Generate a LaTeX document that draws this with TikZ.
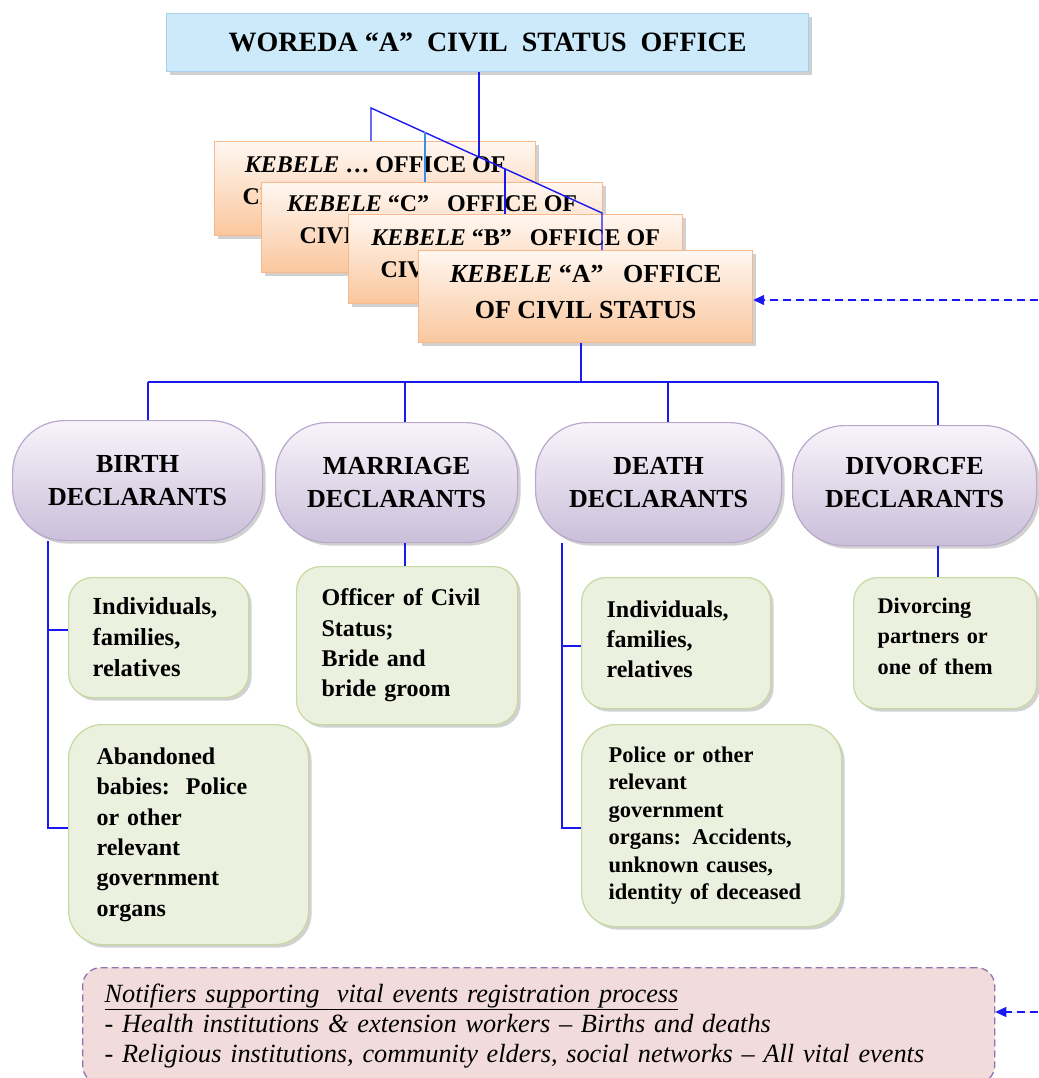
\documentclass[tikz,border=0pt]{standalone}
\usepackage{fontspec}
\setmainfont{Liberation Serif}
\usetikzlibrary{shadows,arrows.meta}
\definecolor{titlefill}{HTML}{CDEAFA}
\definecolor{titleline}{HTML}{A9CFEA}
\definecolor{kebtop}{HTML}{FFF7F1}
\definecolor{kebbot}{HTML}{FAC79E}
\definecolor{kebline}{HTML}{F7B88C}
\definecolor{decltop}{HTML}{F7F4FA}
\definecolor{declbot}{HTML}{CBBFDA}
\definecolor{declline}{HTML}{B8A9CC}
\definecolor{greenfill}{HTML}{EBF1DE}
\definecolor{greenline}{HTML}{C6D9A0}
\definecolor{notfill}{HTML}{F2DCDB}
\definecolor{notline}{HTML}{8E74AE}
\definecolor{connblue}{HTML}{1A1AF0}
\definecolor{connlight}{HTML}{3A8FE0}
\begin{document}
\begin{tikzpicture}[x=1pt,y=-1pt,
  shad/.style={drop shadow={shadow xshift=3pt,shadow yshift=-3pt,fill=black!40,opacity=0.45}},
  titlebox/.style={shad,draw=titleline,line width=1.2pt,fill=titlefill,anchor=north west,
    font=\fontsize{28}{32}\selectfont\bfseries,inner sep=0pt},
  kebbox/.style={shad,draw=kebline,line width=1.2pt,top color=kebtop,bottom color=kebbot,
    anchor=north west,align=center,font=\fontsize{24}{32}\selectfont\bfseries,inner sep=0pt},
  declbox/.style={shad,draw=declline,line width=1.2pt,top color=decltop,bottom color=declbot,
    rounded corners=52pt,anchor=north west,align=center,
    font=\fontsize{26}{33}\selectfont\bfseries,inner sep=0pt},
  greenbox/.style={shad,draw=greenline,line width=1.2pt,fill=greenfill,rounded corners=24pt,
    anchor=north west,align=left,inner xsep=25pt,inner ysep=0pt,
    font=\fontsize{24}{31}\selectfont\bfseries},
  notbox/.style={draw=notline,line width=1.3pt,dash pattern=on 7pt off 4pt,fill=notfill,
    rounded corners=18pt,anchor=north west,align=left,inner xsep=22pt,inner ysep=0pt,
    font=\fontsize{26.3}{30}\selectfont\itshape},
  conn/.style={draw=connblue,line width=1.4pt},
  dasharr/.style={draw=connblue,line width=1.4pt,dash pattern=on 8pt off 5pt,
    -{Triangle[length=11pt,width=10pt]},fill=connblue}
]
\useasboundingbox (0,0) rectangle (1038,1078);

% title
\node[titlebox,minimum width=642pt,minimum height=58pt] (woreda) at (166,13)
  {WOREDA “A”\ \ CIVIL\ \ STATUS\ \ OFFICE};

% kebele stack
\node[kebbox,minimum width=321pt,minimum height=94pt,text depth=16pt] (kdots) at (214,141)
  {\textit{KEBELE} … OFFICE OF\\CIVIL STATUS\hspace*{100pt}};
\node[kebbox,minimum width=341pt,minimum height=90pt,text depth=16pt] (kC) at (261,182)
  {\textit{KEBELE} “C”\ \ \ OFFICE OF\\CIVIL STATUS\hspace*{100pt}};
\node[kebbox,minimum width=334pt,minimum height=89pt,text depth=12pt] (kB) at (348,214)
  {\textit{KEBELE} “B”\ \ \ OFFICE OF\\CIVIL STATUS\hspace*{105pt}};
\node[kebbox,minimum width=334pt,minimum height=92pt,text depth=10pt,font=\fontsize{26}{36}\selectfont\bfseries] (kA) at (418,250)
  {\textit{KEBELE} “A”\ \ \ OFFICE\\OF CIVIL STATUS};

% connectors to kebele offices
\coordinate (j0) at (479,157);
\coordinate (dA) at (371,108);
\coordinate (dB) at (602,213);
\coordinate (j1) at (425,132.5);
\coordinate (j2) at (505,169);
\draw[conn] (woreda.south -| j0) -- (j0);
\draw[conn] (kdots.north -| dA) -- (dA) -- (dB) -- (kA.north -| dB);
\draw[draw=connlight,line width=1.4pt] (kC.north -| j1) -- (j1);
\draw[conn] (kB.north -| j2) -- (j2);

% declarants
\node[declbox,minimum width=250pt,minimum height=120pt] (birth) at (12,420) {BIRTH\\DECLARANTS};
\node[declbox,minimum width=242pt,minimum height=120pt] (marriage) at (275,422) {MARRIAGE\\DECLARANTS};
\node[declbox,minimum width=246pt,minimum height=120pt] (death) at (535,422) {DEATH\\DECLARANTS};
\node[declbox,minimum width=244pt,minimum height=120pt,text depth=6pt] (divorce) at (792,425) {DIVORCFE\\DECLARANTS};

\coordinate (hub) at (581,382);
\coordinate (busL) at (148,382);
\coordinate (busM) at (405,382);
\coordinate (busD) at (668,382);
\coordinate (busR) at (938,382);
\draw[conn] (kA.south -| hub) -- (hub);
\draw[conn] (busL) -- (busR);
\draw[conn] (busL) -- (busL |- birth.north);
\draw[conn] (busM) -- (busM |- marriage.north);
\draw[conn] (busD) -- (busD |- death.north);
\draw[conn] (busR) -- (busR |- divorce.north);

% green boxes
\node[greenbox,text width=132pt,minimum width=180pt,minimum height=120pt,inner xsep=24pt,font=\fontsize{24.5}{31}\selectfont\bfseries] (bi1) at (68,577)
  {Individuals,\\families,\\relatives};
\node[greenbox,minimum width=240pt,minimum height=220pt,rounded corners=34pt,inner xsep=28pt,text width=184pt,font=\fontsize{24}{30.4}\selectfont\bfseries] (aband) at (68,724)
  {Abandoned\\babies:\ \ Police\\or other\\relevant\\government\\organs};
\node[greenbox,text width=171pt,minimum width=221pt,minimum height=158pt,font=\fontsize{24}{30.3}\selectfont\bfseries] (officer) at (296,566)
  {Officer of Civil\\Status;\\Bride and\\bride groom};
\node[greenbox,text width=139pt,minimum width=189pt,minimum height=131pt,text depth=68pt,font=\fontsize{24}{30}\selectfont\bfseries] (di1) at (581,577)
  {Individuals,\\families,\\relatives};
\node[greenbox,text width=206pt,minimum width=260pt,minimum height=202pt,rounded corners=34pt,inner xsep=27pt,font=\fontsize{22.5}{27.5}\selectfont\bfseries] (police) at (581,724)
  {Police or other\\relevant\\government\\organs: Accidents,\\unknown causes,\\identity of deceased};
\node[greenbox,text width=135pt,minimum width=183pt,minimum height=131pt,inner xsep=24pt,text depth=75pt,font=\fontsize{22.3}{30.5}\selectfont\bfseries] (divorcing) at (853,577)
  {Divorcing\\partners or\\one of them};

\coordinate (bv) at (48,540);
\coordinate (bh1) at (48,630);
\coordinate (bh2) at (48,828);
\coordinate (mv) at (405,542);
\coordinate (dv) at (562,542);
\coordinate (dh1) at (562,646);
\coordinate (dh2) at (562,828);
\coordinate (vv) at (938,545);
\draw[conn] (birth.south -| bv) -- (bh2) -- (bh2 -| aband.west);
\draw[conn] (bh1) -- (bh1 -| bi1.west);
\draw[conn] (marriage.south -| mv) -- (officer.north -| mv);
\draw[conn] (death.south -| dv) -- (dh2) -- (dh2 -| police.west);
\draw[conn] (dh1) -- (dh1 -| di1.west);
\draw[conn] (divorce.south -| vv) -- (divorcing.north -| vv);

% notifiers
\node[notbox,text width=868pt,minimum width=912pt,minimum height=116pt] (notif) at (82,967)
  {\underline{Notifiers supporting\ \ vital events registration process}\\
   - Health institutions \& extension workers – Births and deaths\\
   - Religious institutions, community elders, social networks – All vital events};

% dashed arrows from the right
\coordinate (eR1) at (1038,300);
\coordinate (eR2) at (1038,1012);
\draw[dasharr] (eR1) -- (kA.east |- eR1);
\draw[dasharr] (eR2) -- (notif.east |- eR2);
\end{tikzpicture}
\end{document}
